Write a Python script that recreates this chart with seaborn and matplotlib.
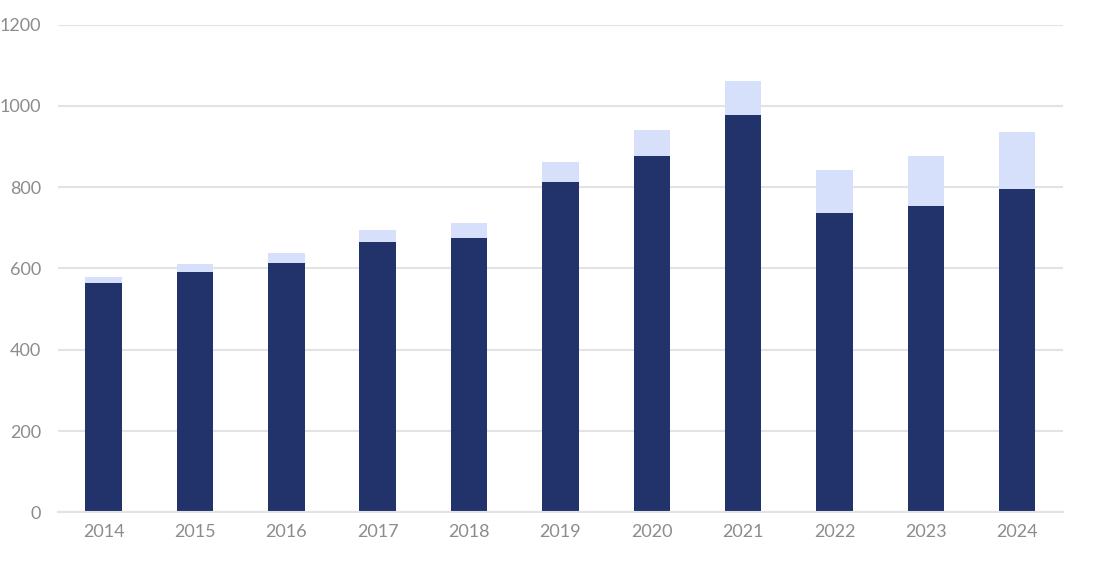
import seaborn as sns
import pandas as pd
import matplotlib.pyplot as plt

years = ['2014', '2015', '2016', '2017', '2018', '2019', '2020', '2021', '2022', '2023', '2024']
base = [564, 591, 614, 665, 675, 813, 877, 977, 737, 754, 795]
extra = [15, 20, 24, 30, 37, 49, 63, 84, 105, 123, 141]

df = pd.DataFrame({'year': years, 'base': base, 'extra': extra})
df['total'] = df['base'] + df['extra']

sns.set_theme(style='white')
plt.rcParams['font.family'] = ['Lato', 'DejaVu Sans']

fig = plt.figure(figsize=(10.98, 5.61), dpi=100)
ax = fig.add_axes([0.0528, 0.0865, 0.9152, 0.8698])

sns.barplot(data=df, x='year', y='total', color='#D6E0FA', width=0.4, ax=ax,
            saturation=1, linewidth=0)
sns.barplot(data=df, x='year', y='base', color='#22336B', width=0.4, ax=ax,
            saturation=1, linewidth=0)

ax.set_ylim(0, 1200)
ax.set_xlim(-0.5, len(years) - 0.5)
ax.set_yticks(range(0, 1201, 200))
ax.yaxis.grid(True, color='#E3E3E3', linewidth=1.5)
ax.set_axisbelow(True)
for s in ['top', 'right', 'left']:
    ax.spines[s].set_visible(False)
ax.spines['bottom'].set_color('#E3E3E3')
ax.spines['bottom'].set_linewidth(1.5)
ax.set_xlabel('')
ax.set_ylabel('')
ax.tick_params(axis='both', length=0, labelsize=13, labelcolor='#8C8C8C')
ax.tick_params(axis='y', pad=12)
ax.tick_params(axis='x', pad=8)

fig.savefig('out.png', dpi=100)
